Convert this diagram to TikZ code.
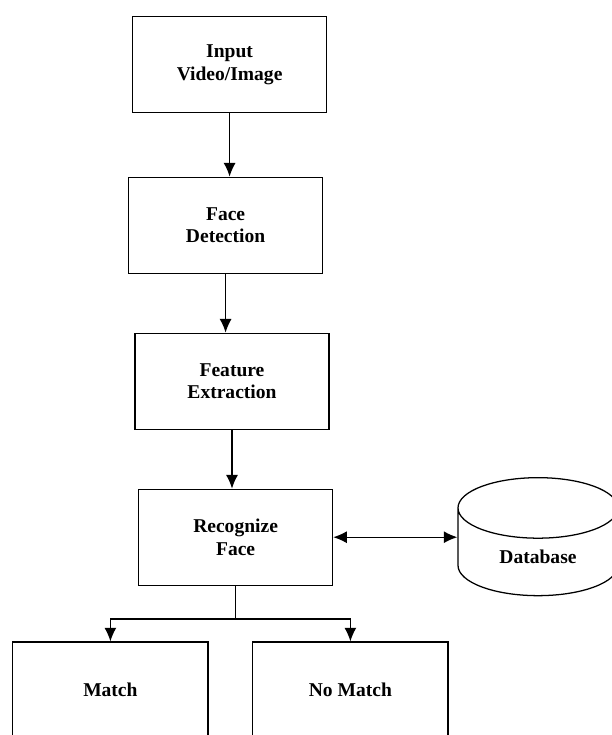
\documentclass[tikz,border=0pt]{standalone}
\usepackage{fontspec}
\setmainfont{Liberation Serif}
\usepackage{tikz}
\usetikzlibrary{shapes.geometric,arrows.meta}

\begin{document}
\begin{tikzpicture}[line width=0.9pt, >={Latex[length=3.4mm,width=3mm]},
  font=\fontsize{13.9}{16}\selectfont\bfseries]
\clip (0,0) rectangle (15.3,-18.375);
\useasboundingbox (0,0) rectangle (15.3,-18.375);
\tikzset{stepbox/.style={rectangle, draw, align=center, minimum width=4.85cm, minimum height=2.4cm}}

\node[stepbox] (input) at (5.74,-1.62) {Input\\Video/Image};
\node[stepbox] (detect) at (5.64,-5.63) {Face\\Detection};
\node[stepbox] (feature) at (5.8,-9.53) {Feature\\Extraction};
\node[stepbox] (recognize) at (5.89,-13.43) {Recognize\\Face};
\node[stepbox, minimum width=4.88cm] (match) at (2.76,-17.25) {Match};
\node[stepbox, minimum width=4.88cm] (nomatch) at (8.76,-17.25) {No Match};
\node[cylinder, draw, shape border rotate=90, aspect=0.7, minimum width=4cm, minimum height=2.95cm] (database) at (13.45,-13.93) {Database};

\draw[->] (input.south) -- (input.south |- detect.north);
\draw[->] (detect.south) -- (detect.south |- feature.north);
\draw[->] (feature.south) -- (feature.south |- recognize.north);
\draw[<->] (recognize.east) -- (recognize.east -| database.west);
\draw[->] (recognize.south) -- ++(0,-0.83) coordinate (split) -| (match.north);
\draw[->] (split) -| (nomatch.north);
\end{tikzpicture}
\end{document}
